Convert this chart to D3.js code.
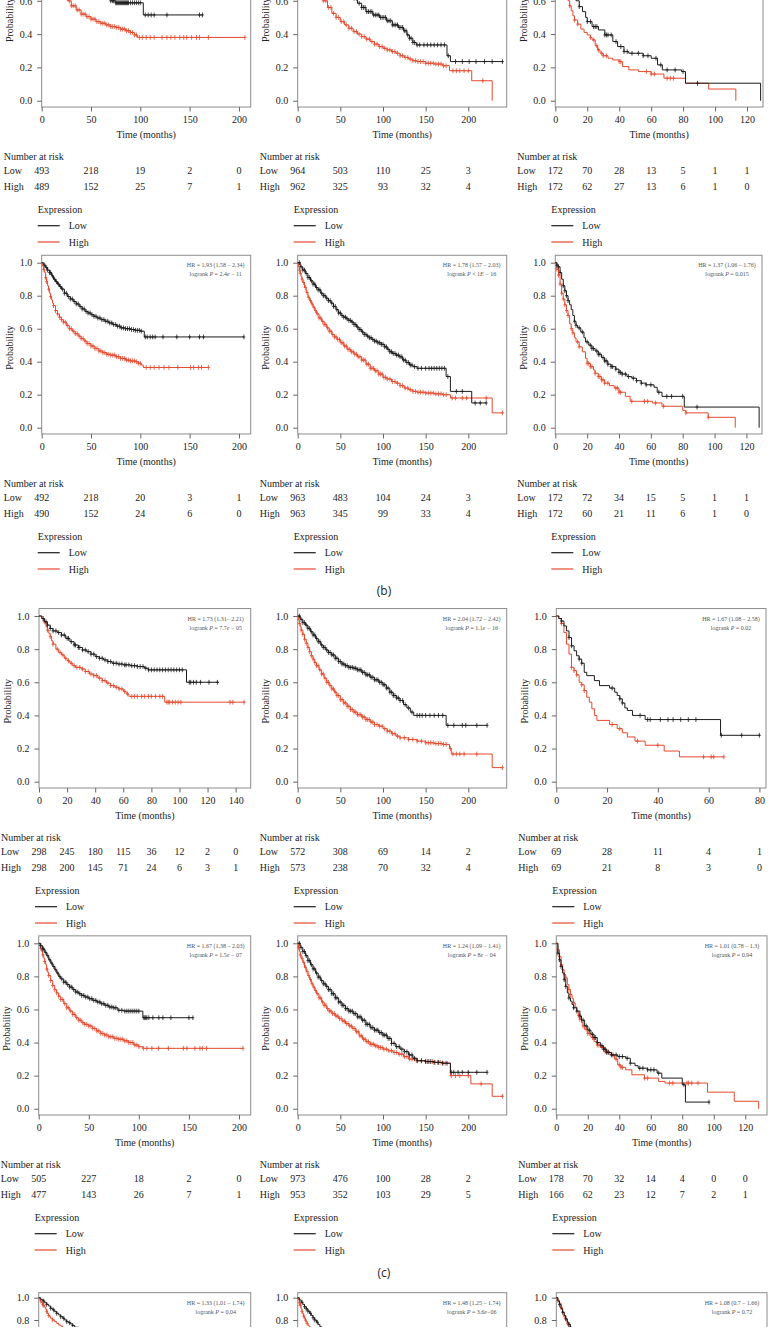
<!DOCTYPE html>
<html><head><meta charset="utf-8">
<script src="https://cdn.jsdelivr.net/npm/d3@7"></script>
<style>
html,body{margin:0;padding:0;background:#fff;}
svg{display:block;}
</style></head><body>
<svg id="c" width="768" height="1344"></svg>
<script>
// ---------------- DATA ----------------
const ticks200 = [0, 50, 100, 150, 200];
const ticks120 = [0, 20, 40, 60, 80, 100, 120];
const ticks140 = [0, 20, 40, 60, 80, 100, 120, 140];
const ticks80  = [0, 20, 40, 60, 80];
const yTicks = [0, 0.2, 0.4, 0.6, 0.8, 1.0];
const groups = ["Low", "High"];

// Row A (top, cut)
const aLLow = [[0,1],[4,0.97],[8,0.95],[12,0.91],[16,0.88],[20,0.85],[25,0.81],[30,0.78],[35,0.75],[40,0.73],[45,0.70],[50,0.68],[55,0.665],[60,0.645],[65,0.62],[70,0.6],[75,0.588],[103,0.515],[163,0.515]];
const aLHigh = [[0,1],[3,0.95],[6,0.89],[9,0.83],[12,0.77],[15,0.72],[18,0.68],[22,0.64],[26,0.6],[30,0.57],[35,0.545],[40,0.52],[45,0.505],[50,0.49],[55,0.475],[60,0.465],[65,0.455],[70,0.445],[75,0.44],[80,0.43],[85,0.42],[90,0.41],[94,0.395],[97,0.38],[206,0.38]];
const aLLowCens = [35,40,45,50,55,58,62,65,68,70,72,73,75,76,77,78,79,80,81,82,83,84,85,86,87,88,90,92,94,96,98,100,105,108,111,114,127,160,163];
const aLHighCens = [28,30,32,34,36,38,40,42,44,46,48,50,52,54,56,58,60,62,64,66,68,70,72,74,76,78,80,82,84,86,88,90,92,94,96,99,102,106,110,114,122,127,131,135,140,144,147,152,157,160,169,206];
const aLRiskLow = [493, 218, 19, 2, 0];
const aLRiskHigh = [489, 152, 25, 7, 1];

const aMLow = [[0,1],[5,0.97],[10,0.935],[15,0.9],[20,0.865],[25,0.835],[30,0.8],[35,0.77],[40,0.745],[45,0.72],[50,0.695],[55,0.67],[60,0.645],[65,0.615],[70,0.585],[75,0.56],[80,0.535],[88,0.515],[96,0.5],[104,0.48],[111,0.455],[118,0.44],[124,0.42],[128,0.395],[131,0.375],[135,0.35],[139,0.335],[175,0.27],[179,0.235],[240,0.235]];
const aMHigh = [[0,1],[4,0.95],[8,0.89],[12,0.83],[16,0.77],[20,0.72],[25,0.66],[30,0.6],[35,0.56],[40,0.525],[45,0.5],[50,0.475],[55,0.455],[60,0.435],[65,0.415],[70,0.4],[75,0.385],[80,0.37],[85,0.355],[90,0.34],[95,0.325],[100,0.315],[105,0.305],[110,0.295],[115,0.285],[120,0.27],[125,0.26],[130,0.25],[135,0.24],[140,0.235],[150,0.225],[160,0.22],[170,0.21],[178,0.18],[204,0.12],[228,0]];
const aMLowCens = [30,35,40,45,50,55,60,63,66,69,72,75,77,79,81,83,85,87,89,91,93,95,97,99,101,103,105,107,109,111,113,115,117,119,121,123,125,127,129,131,133,135,137,140,143,148,152,156,160,164,168,172,176.5,185,193,201,209,219,228,240];
const aMHighCens = [30,33,36,39,42,45,48,51,54,57,60,63,66,69,72,75,78,81,84,87,90,93,96,99,102,105,108,111,114,117,120,123,126,129,132,135,138,141,144,147,150,153,156,159,162,165,168,171,174,182,186,190,195,200,217];
const aMRiskLow = [964, 503, 110, 25, 3];
const aMRiskHigh = [962, 325, 93, 32, 4];

const aRLow = [[0,1],[1,0.985],[2,0.965],[3,0.93],[4,0.89],[5,0.86],[6,0.83],[7,0.8],[8,0.76],[9,0.73],[10,0.69],[11,0.66],[12,0.63],[13,0.6],[15,0.565],[17,0.535],[19,0.5],[20,0.475],[23,0.445],[27,0.425],[31,0.395],[36,0.355],[39,0.325],[43,0.295],[46,0.285],[55,0.27],[60,0.255],[64,0.215],[67,0.185],[79,0.175],[81.5,0.105],[128.5,0]];
const aRHigh = [[0,1],[1,0.97],[2,0.92],[3,0.86],[4,0.8],[5,0.74],[6,0.69],[7,0.64],[8,0.6],[9,0.57],[10,0.54],[11,0.51],[12,0.485],[14,0.46],[16,0.43],[18,0.41],[20,0.395],[22,0.38],[23,0.365],[25,0.33],[26.5,0.305],[28,0.285],[30,0.27],[33,0.255],[36,0.245],[40,0.235],[42,0.205],[46,0.185],[52,0.175],[60,0.16],[68,0.135],[81.5,0.105],[96,0.07],[113,0]];
const aRLowCens = [15,20,22,24,25,26,31,32,33,35,38,41,43,45,48,52,55,58,63,66,70,75,80,89];
const aRHighCens = [9,12,14,22,24,26,27,29,30,32,40,41,57,60,62,70,72,74];
const aRRiskLow = [172, 70, 28, 13, 5, 1, 1];
const aRRiskHigh = [172, 62, 27, 13, 6, 1, 0];

// Row B
const bLLow = [[0,1],[2,0.985],[4,0.97],[6,0.955],[8,0.94],[10,0.92],[12,0.9],[14,0.885],[16,0.87],[18,0.855],[20,0.84],[23,0.815],[26,0.795],[29,0.78],[32,0.765],[35,0.75],[38,0.735],[41,0.72],[44,0.705],[47,0.695],[50,0.685],[53,0.675],[56,0.665],[60,0.655],[64,0.645],[68,0.635],[72,0.625],[76,0.615],[80,0.605],[85,0.6],[90,0.595],[95,0.59],[100,0.585],[104,0.55],[205,0.55]];
const bLHigh = [[0,1],[1,0.98],[2,0.96],[3,0.94],[4,0.91],[5,0.885],[6,0.86],[7,0.84],[8,0.815],[9,0.795],[10,0.775],[11,0.755],[12,0.74],[14,0.71],[16,0.69],[18,0.67],[20,0.655],[22,0.64],[25,0.62],[28,0.6],[31,0.585],[34,0.57],[37,0.555],[40,0.54],[43,0.525],[46,0.51],[50,0.495],[54,0.48],[58,0.465],[62,0.455],[66,0.445],[70,0.44],[75,0.43],[80,0.42],[85,0.41],[90,0.405],[95,0.4],[98,0.39],[101,0.38],[103,0.365],[169,0.365]];
const bLLowCens = [3,5,6,8,9,11,13,15,17,19,21,23,25,27,29,31,33,35,37,39,41,43,45,47,49,51,53,55,57,59,61,63,65,67,69,71,73,75,77,79,81,83,85,87,89,91,93,95,97,99,101,105,107,110,112.5,115,123,137,150,160,164,205];
const bLHighCens = [2,4,5,7,9,12,14,16,18,20,22,24,26,28,30,32,34,36,38,40,42,44,46,48,50,52,54,56,58,60,62,64,66,68,70,72,74,76,78,80,82,84,86,88,90,92,94,96,98,100,106,110,114,119,124,129,138,151,154,159,162,169];
const bLRiskLow = [492, 218, 20, 3, 1];
const bLRiskHigh = [490, 152, 24, 6, 0];

const bMLow = [[0,1],[3,0.975],[6,0.955],[9,0.935],[12,0.91],[15,0.89],[18,0.87],[21,0.85],[24,0.835],[27,0.815],[30,0.8],[33,0.785],[36,0.77],[39,0.755],[42,0.735],[45,0.715],[48,0.695],[51,0.68],[54,0.67],[57,0.66],[60,0.65],[63,0.64],[66,0.625],[69,0.61],[72,0.595],[75,0.58],[78,0.565],[81,0.555],[84,0.545],[87,0.535],[90,0.525],[94,0.515],[98,0.505],[102,0.49],[105,0.475],[108,0.46],[111,0.45],[115,0.44],[119,0.43],[123,0.41],[127,0.395],[131,0.38],[135,0.37],[140,0.36],[174,0.31],[179,0.22],[204,0.15],[221,0.15]];
const bMHigh = [[0,1],[1,0.975],[2,0.955],[3,0.935],[4,0.915],[5,0.9],[6,0.88],[8,0.85],[10,0.82],[12,0.79],[14,0.77],[16,0.75],[18,0.73],[20,0.71],[22,0.69],[25,0.665],[28,0.645],[31,0.625],[34,0.605],[37,0.585],[40,0.565],[43,0.55],[46,0.535],[50,0.515],[54,0.495],[58,0.475],[62,0.46],[66,0.445],[70,0.43],[75,0.41],[80,0.385],[85,0.36],[90,0.345],[95,0.325],[100,0.305],[105,0.295],[110,0.28],[115,0.27],[120,0.255],[125,0.24],[130,0.23],[135,0.22],[140,0.215],[150,0.21],[160,0.205],[170,0.2],[179,0.18],[228,0.09],[240,0.09]];
const bMLowCens = [2,4,6,8,10,12,14,16,18,20,22,24,26,28,30,32,34,36,38,40,42,44,46,48,50,52,54,56,58,60,62,64,66,68,70,72,74,76,78,80,82,84,86,88,90,92,94,96,98,100,102,104,106,108,110,112,114,116,118,120,122,124,126,128,130,132,134,137,141,145,150,154,157,160,163,166,169,172,176,186,193,208,214,221];
const bMHighCens = [2,3,5,7,9,11,13,15,17,19,21,23,25,27,29,31,33,35,37,39,41,43,45,47,49,51,53,55,57,59,61,63,65,67,69,71,73,75,77,79,81,83,85,87,89,91,93,95,97,99,101,103,105,108,111,114,117,120,123,126,129,132,135,138,141,144,147,150,153,156,159,162,165,168,171,174,181,185,193,198,221,240];
const bMRiskLow = [963, 483, 104, 24, 3];
const bMRiskHigh = [963, 345, 99, 33, 4];

const bRLow = [[0,1],[1,0.985],[2,0.975],[3,0.94],[4,0.9],[5,0.86],[6,0.83],[7,0.8],[8,0.77],[9,0.745],[10,0.715],[11,0.68],[12,0.645],[13,0.62],[14,0.605],[16,0.58],[18,0.545],[19,0.52],[21,0.5],[23,0.48],[25,0.465],[27,0.445],[29,0.425],[31,0.405],[33,0.385],[35,0.37],[38,0.355],[40,0.335],[42,0.325],[45,0.31],[48,0.3],[51,0.285],[54,0.27],[57,0.26],[62,0.245],[64,0.215],[67,0.19],[81,0.125],[128,0]];
const bRHigh = [[0,1],[1,0.96],[2,0.925],[3,0.87],[4,0.815],[5,0.78],[6,0.745],[7,0.71],[8,0.68],[9,0.63],[10,0.6],[11,0.575],[12,0.545],[13,0.52],[15,0.49],[17,0.46],[19,0.42],[20,0.39],[22,0.37],[24,0.35],[25,0.33],[27,0.31],[29,0.29],[31,0.27],[34,0.255],[37,0.24],[40,0.215],[44,0.19],[47,0.16],[61,0.15],[67,0.13],[80,0.105],[82,0.09],[96,0.063],[113,0]];
const bRLowCens = [1,2,3,5,6,7,8,12,13,15,17,20,22,23,24,26,27,28,30,31,32,33,35,36,38,40,41,42,44,46,49,51,54,57,60,65,70,73,80,89];
const bRHighCens = [1,2,3,4,5,6,7,8,10,11,14,15,20,21,22,23,25,27,28,29,30,31,33,38,39,40,41,48,56,58,63,68,82,96];
const bRRiskLow = [172, 72, 34, 15, 5, 1, 1];
const bRRiskHigh = [172, 60, 21, 11, 6, 1, 0];

// Row C
const cLLow = [[0,1],[2,0.985],[4,0.965],[6,0.945],[8,0.925],[10,0.91],[13,0.9],[16,0.885],[19,0.865],[22,0.845],[25,0.825],[28,0.81],[31,0.795],[34,0.785],[37,0.77],[40,0.755],[43,0.745],[46,0.735],[49,0.725],[52,0.715],[56,0.71],[60,0.705],[65,0.7],[70,0.695],[75,0.685],[78,0.675],[105,0.6],[128,0.6]];
const cLHigh = [[0,1],[2,0.985],[3,0.965],[5,0.935],[6,0.915],[7,0.895],[8,0.875],[9,0.85],[10,0.83],[12,0.8],[14,0.78],[16,0.765],[18,0.745],[20,0.73],[22,0.715],[24,0.7],[26,0.69],[30,0.68],[33,0.665],[36,0.65],[39,0.64],[42,0.625],[45,0.61],[48,0.595],[51,0.58],[54,0.57],[57,0.56],[60,0.545],[62,0.53],[64,0.515],[89.5,0.48],[146,0.48]];
const cLLowCens = [3,5,6,8,10,12,14,16,18,20,21,23,25,26,28,29,31,33,35,37,39,41,43,45,47,49,51,53,55,57,59,61,62,64,66,68,70,72,74,76,78,80,82,84,86,88,90,92,94,96,98,100,102,107,108,110,112,115,121,127];
const cLHighCens = [4,6,8,10,13,15,17,19,21,23,25,27,29,31,33,35,37,39,41,43,45,47,49,51,53,55,57,59,61,63,66,68,70,73,75,78,80,83,86,88,91,92,93,95,97,99,101,136,138,146];
const cLRiskLow = [298, 245, 180, 115, 36, 12, 2, 0];
const cLRiskHigh = [298, 200, 145, 71, 24, 6, 3, 1];

const cMLow = [[0,1],[3,0.98],[6,0.96],[9,0.945],[12,0.925],[15,0.905],[18,0.885],[21,0.865],[24,0.845],[27,0.825],[30,0.81],[33,0.795],[36,0.78],[40,0.765],[44,0.745],[48,0.725],[52,0.71],[56,0.7],[60,0.69],[65,0.685],[70,0.675],[75,0.66],[80,0.645],[85,0.63],[90,0.615],[95,0.6],[100,0.585],[104,0.565],[108,0.54],[112,0.52],[116,0.505],[120,0.49],[124,0.465],[128,0.445],[132,0.42],[136,0.4],[174,0.34],[222,0.34]];
const cMHigh = [[0,1],[1,0.975],[2,0.955],[3,0.935],[4,0.915],[6,0.89],[8,0.86],[10,0.835],[12,0.81],[14,0.785],[16,0.76],[18,0.74],[20,0.72],[22,0.7],[25,0.675],[28,0.65],[31,0.625],[34,0.6],[37,0.58],[40,0.56],[43,0.54],[46,0.52],[50,0.495],[54,0.475],[58,0.455],[62,0.435],[66,0.42],[70,0.405],[75,0.39],[80,0.375],[85,0.36],[90,0.345],[95,0.335],[100,0.32],[105,0.305],[110,0.29],[115,0.275],[120,0.265],[130,0.255],[140,0.245],[150,0.235],[160,0.23],[170,0.225],[178,0.2],[180,0.167],[228,0.085],[240,0.085]];
const cMLowCens = [2,4,6,8,10,12,14,16,18,20,22,24,26,28,30,32,34,36,38,40,42,44,46,48,50,52,54,56,58,60,62,64,66,68,70,72,74,76,78,80,82,84,86,88,90,92,94,96,98,100,102,104,106,108,110,112,114,116,118,120,123,126,130,134,140,143,146,150,155,160,165,170,176,183,193,197,210,222];
const cMHighCens = [2,4,6,8,10,12,14,16,18,20,22,24,26,28,30,32,34,36,38,40,42,44,46,48,50,52,54,56,58,60,62,64,66,68,70,72,74,76,78,80,82,84,86,88,90,93,96,99,102,105,108,111,114,117,120,125,130,135,140,145,150,153,156,159,162,165,168,171,174,179,182,186,190,195,210,240];
const cMRiskLow = [572, 308, 69, 14, 2];
const cMRiskHigh = [573, 238, 70, 32, 4];

const cRLow = [[0,1],[1,0.985],[2,0.97],[3,0.94],[4,0.91],[5,0.87],[6,0.82],[7,0.79],[8,0.76],[9,0.74],[10,0.715],[11,0.66],[12,0.64],[15,0.61],[17,0.58],[21,0.565],[23,0.54],[24,0.52],[25,0.5],[26,0.475],[27,0.445],[28,0.43],[30,0.4],[35,0.375],[64.7,0.28],[80,0.28]];
const cRHigh = [[0,1],[1,0.985],[2,0.955],[3,0.9],[4,0.83],[5,0.77],[6,0.69],[7,0.67],[8,0.645],[9,0.6],[10,0.585],[11,0.55],[12,0.51],[13,0.48],[14,0.44],[15,0.4],[16,0.37],[21,0.345],[24,0.32],[26,0.295],[28,0.27],[31,0.245],[35,0.22],[42.5,0.185],[48.5,0.15],[66,0.15]];
const cRLowCens = [2,5,6,9,10,22,25,26,33,36,37,41,44,46,49,52,55,65,73,80];
const cRHighCens = [2,6,7,8,10,11,22,25,32,40,58,61,62,66];
const cRRiskLow = [69, 28, 11, 4, 1];
const cRRiskHigh = [69, 21, 8, 3, 0];

// Row D
const dLLow = [[0,1],[2,0.985],[4,0.965],[6,0.945],[8,0.925],[10,0.9],[12,0.88],[14,0.86],[16,0.84],[18,0.82],[20,0.8],[22,0.785],[25,0.765],[28,0.75],[31,0.735],[34,0.72],[37,0.705],[40,0.695],[43,0.685],[46,0.675],[50,0.665],[54,0.655],[58,0.645],[62,0.635],[66,0.625],[70,0.615],[75,0.61],[79,0.595],[85,0.59],[104,0.55],[154,0.55]];
const dLHigh = [[0,1],[1,0.985],[2,0.97],[3,0.95],[4,0.93],[5,0.91],[6,0.89],[7,0.87],[8,0.845],[9,0.825],[10,0.805],[12,0.775],[14,0.745],[16,0.72],[18,0.7],[20,0.68],[22,0.66],[25,0.635],[28,0.61],[31,0.59],[34,0.57],[37,0.55],[40,0.535],[43,0.52],[46,0.51],[50,0.5],[54,0.485],[58,0.47],[62,0.455],[66,0.445],[70,0.435],[75,0.425],[80,0.42],[85,0.41],[90,0.4],[95,0.385],[100,0.375],[104,0.365],[204,0.365]];
const dLLowCens = [2,4,5,7,9,11,13,15,17,19,21,23,25,27,29,31,33,35,37,39,41,43,45,47,49,51,53,55,57,59,61,63,65,67,69,71,73,75,77,80,83,86,88,90,92,94,96,98,100,105,106,107,108,110,114,120,124,132,150,154];
const dLHighCens = [2,4,6,8,10,12,14,16,18,20,22,24,26,28,30,32,34,36,38,40,42,44,46,48,50,52,54,56,58,60,62,64,66,68,70,72,74,76,78,80,82,84,86,88,90,92,94,96,98,100,104.5,108,113,119.5,129.5,144.5,148,156,161,163.5,167.5,204];
const dLRiskLow = [505, 227, 18, 2, 0];
const dLRiskHigh = [477, 143, 26, 7, 1];

const dMLow = [[0,1],[3,0.975],[6,0.95],[9,0.925],[12,0.895],[15,0.87],[18,0.845],[21,0.82],[24,0.795],[27,0.775],[30,0.755],[33,0.74],[36,0.72],[40,0.695],[44,0.67],[48,0.645],[52,0.625],[56,0.605],[60,0.59],[65,0.575],[70,0.555],[75,0.535],[80,0.51],[85,0.49],[90,0.475],[95,0.46],[100,0.445],[105,0.425],[110,0.395],[115,0.375],[120,0.36],[125,0.345],[130,0.325],[135,0.305],[140,0.29],[150,0.285],[160,0.28],[170,0.275],[179,0.22],[222,0.22]];
const dMHigh = [[0,1],[1,0.975],[2,0.95],[3,0.93],[4,0.91],[6,0.885],[8,0.855],[10,0.83],[12,0.805],[14,0.78],[16,0.755],[18,0.735],[20,0.715],[22,0.695],[25,0.67],[28,0.645],[31,0.625],[34,0.605],[37,0.59],[40,0.575],[44,0.56],[48,0.545],[52,0.53],[56,0.515],[60,0.5],[64,0.485],[68,0.465],[72,0.44],[76,0.42],[80,0.405],[85,0.39],[90,0.38],[95,0.37],[100,0.36],[106,0.35],[112,0.34],[118,0.33],[124,0.315],[130,0.3],[140,0.29],[150,0.285],[160,0.28],[170,0.275],[179,0.2],[203,0.15],[228,0.075],[240,0.075]];
const dMLowCens = [2,4,6,8,10,12,14,16,18,20,22,24,26,28,30,32,34,36,38,40,42,44,46,48,50,52,54,56,58,60,62,64,66,68,70,72,74,76,78,80,82,84,86,88,90,92,94,96,98,100,102,104,106,108,110,113,116,119,122,125,128,131,134,137,140,145,150,153,156,160,165,170,175,180,183,188,193,200,210,222];
const dMHighCens = [1,3,5,7,9,11,13,15,17,19,21,23,25,27,29,31,33,35,37,39,41,43,45,47,49,51,53,55,57,59,61,63,65,67,69,71,73,75,77,79,81,83,85,87,89,91,93,95,97,99,101,104,107,110,113,116,119,122,125,128,131,134,137,140,145,150,152,155,158,161,164,167,170,173,180,185,190,200,215,240];
const dMRiskLow = [973, 476, 100, 28, 2];
const dMRiskHigh = [953, 352, 103, 29, 5];

const dRLow = [[0,1],[1,0.94],[2,0.9],[3,0.86],[4,0.82],[5,0.78],[6,0.74],[7,0.7],[8,0.67],[9,0.65],[10,0.63],[11,0.61],[13,0.59],[15,0.56],[16,0.535],[18,0.5],[20,0.475],[22,0.45],[24,0.43],[26,0.4],[28,0.38],[30,0.36],[32,0.34],[35,0.325],[39,0.315],[44,0.305],[47,0.275],[50,0.26],[52,0.245],[58,0.235],[64,0.215],[67,0.185],[80,0.145],[82,0.04],[97,0.04]];
const dRHigh = [[0,1],[1,0.96],[2,0.92],[3,0.87],[4,0.84],[5,0.81],[6,0.79],[7,0.75],[8,0.72],[9,0.69],[10,0.665],[11,0.64],[12,0.615],[13,0.59],[14,0.565],[15,0.54],[16,0.52],[17,0.5],[18,0.48],[20,0.455],[22,0.43],[24,0.405],[26,0.385],[28,0.37],[31,0.345],[34,0.325],[37,0.3],[39,0.265],[41,0.25],[44,0.235],[48,0.205],[56,0.185],[65,0.165],[69,0.155],[96,0.1],[113,0.045],[128.5,0]];
const dRLowCens = [1,2,3,5,6,8,11,13,15,17,19,21,23,24,25,26,29,30,31,32,33,35,36,38,40,42,45,47,53,55,58,60,62,65,81,97];
const dRHighCens = [1,2,3,4,5,6,8,9,11,14,15,17,19,20,21,23,26,27,29,30,31,32,33,38,40,41,42,56,58,72,74,83,84,86,90];
const dRRiskLow = [178, 70, 32, 14, 4, 0, 0];
const dRRiskHigh = [166, 62, 23, 12, 7, 2, 1];

// Row E (bottom, cut)
const eLLow = [[0,1],[2,0.985],[4,0.97],[6,0.955],[8,0.94],[10,0.925],[12,0.905],[14,0.89],[16,0.875],[18,0.86],[20,0.845],[22,0.83],[24,0.815],[26,0.8],[28,0.785],[30,0.775],[32,0.765],[34,0.75],[36,0.735],[40,0.71],[45,0.68],[50,0.655],[60,0.62],[70,0.6],[90,0.58],[120,0.56],[150,0.56]];
const eLHigh = [[0,1],[1,0.985],[2,0.97],[3,0.955],[4,0.94],[5,0.93],[6,0.915],[7,0.895],[8,0.875],[9,0.855],[10,0.84],[11,0.83],[12,0.815],[14,0.8],[16,0.785],[18,0.77],[20,0.755],[22,0.745],[24,0.73],[27,0.71],[30,0.695],[35,0.67],[40,0.65],[50,0.61],[60,0.58],[80,0.55],[100,0.52],[140,0.52]];
const eLLowCens = [5,8,12,15,18,22,25,28,31,34];
const eLHighCens = [2,4,5,8,10,14];
const eMLow = [[0,1],[2,0.98],[4,0.96],[6,0.94],[8,0.92],[10,0.9],[12,0.88],[14,0.86],[16,0.84],[18,0.82],[20,0.8],[22,0.78],[24,0.76],[26,0.74],[28,0.72],[32,0.69],[36,0.66],[40,0.63],[50,0.58],[60,0.54],[80,0.48],[100,0.43],[150,0.35],[220,0.35]];
const eMHigh = [[0,1],[1,0.98],[2,0.955],[3,0.93],[4,0.9],[5,0.875],[6,0.855],[7,0.835],[8,0.815],[9,0.8],[10,0.785],[11,0.77],[12,0.755],[13,0.745],[14,0.735],[16,0.715],[18,0.695],[20,0.675],[24,0.645],[28,0.615],[35,0.57],[45,0.52],[60,0.46],[80,0.4],[100,0.36],[150,0.28],[230,0.28]];
const eMLowCens = [5,8,10,12,15,18,20,23];
const eMHighCens = [2,3,5,7,9,11];
const eRLow = [[0,1],[1,0.97],[2,0.94],[3,0.9],[4,0.87],[5,0.84],[6,0.81],[7,0.78],[8,0.76],[9,0.735],[10,0.71],[12,0.67],[15,0.61],[20,0.53],[30,0.42],[50,0.3],[80,0.2],[110,0.2]];
const eRHigh = [[0,1],[1,0.975],[2,0.95],[3,0.91],[4,0.87],[5,0.835],[6,0.8],[7,0.77],[8,0.74],[9,0.71],[10,0.69],[12,0.65],[15,0.6],[20,0.52],[30,0.41],[50,0.28],[80,0.18],[120,0.18]];
const eRLowCens = [2,4,6,8];
const eRHighCens = [1,3,5,7];

// HR / logrank annotations
const hrB = ["HR = 1.93 (1.58 – 2.34)", "HR = 1.78 (1.57 – 2.03)", "HR = 1.37 (1.06 – 1.76)"];
const pB  = ["= 2.4e − 11", "< 1E − 16", "= 0.015"];
const hrC = ["HR = 1.73 (1.31– 2.21)", "HR = 2.04 (1.72 – 2.42)", "HR = 1.67 (1.08 – 2.58)"];
const pC  = ["= 7.7e − 05", "= 1.1e − 16", "= 0.02"];
const hrD = ["HR = 1.67 (1.38 – 2.03)", "HR = 1.24 (1.09 – 1.41)", "HR = 1.01 (0.78 – 1.3)"];
const pD  = ["= 1.5e − 07", "= 8e − 04", "= 0.94"];
const hrE = ["HR = 1.33 (1.01 – 1.74)", "HR = 1.48 (1.25 – 1.74)", "HR = 1.08 (0.7 – 1.66)"];
const pE  = ["= 0.04", "= 3.6e−06", "= 0.72"];

// ---------------- LAYOUT ----------------
const FONT = "Liberation Serif, Times New Roman, serif";
const LOW_C = "#1c1c1c", HIGH_C = "#e5492d";
const VIEW_BOTTOM = 1327;   // the source figure is cropped here
const rows = [
  {y1: -65.8, y0: 100.7}, {y1: 262.7, y0: 427.7}, {y1: 616, y0: 781.7},
  {y1: 943.3, y0: 1108.7}, {y1: 1297.7, y0: 1409.2}
];

const panels = [
  {r:0, x0:41.7, x1:250.7, xMax:211.9, ticks:ticks200, low:aLLow, high:aLHigh, lc:aLLowCens, hc:aLHighCens, rl:aLRiskLow, rh:aLRiskHigh},
  {r:0, x0:297.7, x1:506.7, xMax:245, ticks:ticks200, low:aMLow, high:aMHigh, lc:aMLowCens, hc:aMHighCens, rl:aMRiskLow, rh:aMRiskHigh},
  {r:0, x0:555.3, x1:763, xMax:130, ticks:ticks120, low:aRLow, high:aRHigh, lc:aRLowCens, hc:aRHighCens, rl:aRRiskLow, rh:aRRiskHigh},
  {r:1, x0:41.7, x1:250.7, xMax:211.9, ticks:ticks200, low:bLLow, high:bLHigh, lc:bLLowCens, hc:bLHighCens, rl:bLRiskLow, rh:bLRiskHigh, hr:hrB[0], p:pB[0]},
  {r:1, x0:297.7, x1:506.7, xMax:245, ticks:ticks200, low:bMLow, high:bMHigh, lc:bMLowCens, hc:bMHighCens, rl:bMRiskLow, rh:bMRiskHigh, hr:hrB[1], p:pB[1]},
  {r:1, x0:555.3, x1:762, xMax:129.8, ticks:ticks120, low:bRLow, high:bRHigh, lc:bRLowCens, hc:bRHighCens, rl:bRRiskLow, rh:bRRiskHigh, hr:hrB[2], p:pB[2]},
  {r:2, x0:39, x1:250.7, xMax:150.7, ticks:ticks140, low:cLLow, high:cLHigh, lc:cLLowCens, hc:cLHighCens, rl:cLRiskLow, rh:cLRiskHigh, hr:hrC[0], p:pC[0]},
  {r:2, x0:297.7, x1:506.7, xMax:245, ticks:ticks200, low:cMLow, high:cMHigh, lc:cMLowCens, hc:cMHighCens, rl:cMRiskLow, rh:cMRiskHigh, hr:hrC[1], p:pC[1]},
  {r:2, x0:556.3, x1:766, xMax:82.6, ticks:ticks80, low:cRLow, high:cRHigh, lc:cRLowCens, hc:cRHighCens, rl:cRRiskLow, rh:cRRiskHigh, hr:hrC[2], p:pC[2]},
  {r:3, x0:38.7, x1:250.7, xMax:211.7, ticks:ticks200, low:dLLow, high:dLHigh, lc:dLLowCens, hc:dLHighCens, rl:dLRiskLow, rh:dLRiskHigh, hr:hrD[0], p:pD[0]},
  {r:3, x0:297.7, x1:506.7, xMax:245, ticks:ticks200, low:dMLow, high:dMHigh, lc:dMLowCens, hc:dMHighCens, rl:dMRiskLow, rh:dMRiskHigh, hr:hrD[1], p:pD[1]},
  {r:3, x0:556.3, x1:767, xMax:133.8, ticks:ticks120, low:dRLow, high:dRHigh, lc:dRLowCens, hc:dRHighCens, rl:dRRiskLow, rh:dRRiskHigh, hr:hrD[2], p:pD[2]},
  {r:4, x0:38.7, x1:250.7, xMax:211.7, ticks:ticks200, low:eLLow, high:eLHigh, lc:eLLowCens, hc:eLHighCens, hr:hrE[0], p:pE[0]},
  {r:4, x0:297.7, x1:506.7, xMax:245, ticks:ticks200, low:eMLow, high:eMHigh, lc:eMLowCens, hc:eMHighCens, hr:hrE[1], p:pE[1]},
  {r:4, x0:556.3, x1:767, xMax:133.8, ticks:ticks120, low:eRLow, high:eRHigh, lc:eRLowCens, hc:eRHighCens, hr:hrE[2], p:pE[2]}
];

const svg = d3.select("#c");
svg.append("defs").append("clipPath").attr("id", "figClip")
  .append("rect").attr("x", 0).attr("y", 0).attr("width", 768).attr("height", VIEW_BOTTOM);
const root = svg.append("g").attr("clip-path", "url(#figClip)");

function survAt(curve, t) {
  let s = 1;
  for (const [tt, ss] of curve) { if (tt <= t) s = ss; else break; }
  return s;
}

function drawPanel(p) {
  const R = rows[p.r];
  const g = root.append("g");
  const x = d3.scaleLinear().domain([0, p.xMax]).range([p.x0, p.x1]);
  const y = d3.scaleLinear().domain([0, 1]).range([R.y0, R.y1]);
  const top = y(1.045), bot = y(-0.038);

  g.append("rect").attr("x", p.x0).attr("y", top).attr("width", p.x1 - p.x0).attr("height", bot - top)
    .attr("fill", "none").attr("stroke", "#8c8c8c").attr("stroke-width", 1);

  const ya = g.append("g").attr("transform", `translate(${p.x0},0)`)
    .call(d3.axisLeft(y).tickValues(yTicks).tickFormat(d3.format(".1f")).tickSize(4.5).tickPadding(5));
  ya.attr("font-family", FONT).attr("font-size", 10);
  ya.select(".domain").remove();
  ya.selectAll("line").attr("stroke", "#666");
  ya.selectAll("text").attr("fill", "#222");

  const xa = g.append("g").attr("transform", `translate(0,${bot})`)
    .call(d3.axisBottom(x).tickValues(p.ticks).tickFormat(d3.format("d")).tickSize(4.5).tickPadding(4.5));
  xa.attr("font-family", FONT).attr("font-size", 10);
  xa.select(".domain").remove();
  xa.selectAll("line").attr("stroke", "#666");
  xa.selectAll("text").attr("fill", "#222");

  g.append("text").attr("x", (p.x0 + p.x1) / 2).attr("y", R.y0 + 37.5).attr("text-anchor", "middle")
    .attr("font-family", FONT).attr("font-size", 10).attr("fill", "#222").text("Time (months)");
  g.append("text").attr("transform", `translate(${p.x0 - 28.5},${(top + bot) / 2 + 3}) rotate(-90)`)
    .attr("text-anchor", "middle").attr("font-family", FONT).attr("font-size", 10).attr("fill", "#222").text("Probability");

  const line = d3.line().x(d => x(d[0])).y(d => y(d[1])).curve(d3.curveStepAfter);
  const series = [{c: p.high, cens: p.hc, col: HIGH_C}, {c: p.low, cens: p.lc, col: LOW_C}];
  series.forEach(s => {
    g.append("path").attr("d", line(s.c)).attr("fill", "none").attr("stroke", s.col).attr("stroke-width", 1);
    g.selectAll(null).data(s.cens).enter().append("path")
      .attr("d", t => {
        const cx = x(t), cy = y(survAt(s.c, t));
        return `M${cx},${cy - 2.4}V${cy + 2.4}M${cx - 1.5},${cy}H${cx + 1.5}`;
      })
      .attr("stroke", s.col).attr("stroke-width", 0.8).attr("fill", "none");
  });

  if (p.hr) {
    const cx = p.x1 - 35;
    g.append("text").attr("x", cx).attr("y", top + 12).attr("text-anchor", "middle")
      .attr("font-family", FONT).attr("font-size", 6).attr("fill", "#555").text(p.hr);
    const t2 = g.append("text").attr("x", cx).attr("y", top + 21).attr("text-anchor", "middle")
      .attr("font-family", FONT).attr("font-size", 6).attr("fill", "#555");
    t2.append("tspan").text("logrank ");
    t2.append("tspan").attr("font-style", "italic").text("P");
    for (const ch of (" " + p.p)) {
      if (ch === "e" || ch === "E") t2.append("tspan").attr("font-style", "italic").text(ch);
      else t2.append("tspan").text(ch);
    }
  }

  if (p.rl) {
    const lx = p.x0 - 38;
    const txt = (xx, yy, s, anchor) => g.append("text").attr("x", xx).attr("y", yy)
      .attr("text-anchor", anchor).attr("font-family", FONT).attr("font-size", 10).attr("fill", "#222").text(s);
    txt(lx, R.y0 + 55.3 + 3.5, "Number at risk", "start");
    const rowsR = [{lab: groups[0], v: p.rl, dy: 69.3}, {lab: groups[1], v: p.rh, dy: 85.3}];
    rowsR.forEach(rr => {
      txt(lx, R.y0 + rr.dy + 3.5, rr.lab, "start");
      rr.v.forEach((v, i) => txt(x(p.ticks[i]), R.y0 + rr.dy + 3.5, String(v), "middle"));
    });
    const ex = p.x0 - 4;
    txt(ex, R.y0 + 108.3 + 3.5, "Expression", "start");
    [{lab: groups[0], col: LOW_C, dy: 125}, {lab: groups[1], col: HIGH_C, dy: 141.3}].forEach(l => {
      g.append("line").attr("x1", ex).attr("x2", ex + 22).attr("y1", R.y0 + l.dy).attr("y2", R.y0 + l.dy)
        .attr("stroke", l.col).attr("stroke-width", 1.2);
      txt(ex + 31, R.y0 + l.dy + 3.5, l.lab, "start");
    });
  }
}

panels.forEach(drawPanel);

root.append("text").attr("x", 384).attr("y", 595).attr("text-anchor", "middle")
  .attr("font-family", "Open Sans, Noto Sans, sans-serif").attr("font-size", 12).attr("fill", "#222").text("(b)");
root.append("text").attr("x", 384).attr("y", 1277).attr("text-anchor", "middle")
  .attr("font-family", "Open Sans, Noto Sans, sans-serif").attr("font-size", 12).attr("fill", "#222").text("(c)");

// drop texts that lie wholly outside the visible (cropped) figure
svg.selectAll("text").each(function () {
  const b = this.getBoundingClientRect();
  if (b.bottom <= 0 || b.top >= VIEW_BOTTOM) d3.select(this).remove();
});
</script>
</body></html>
